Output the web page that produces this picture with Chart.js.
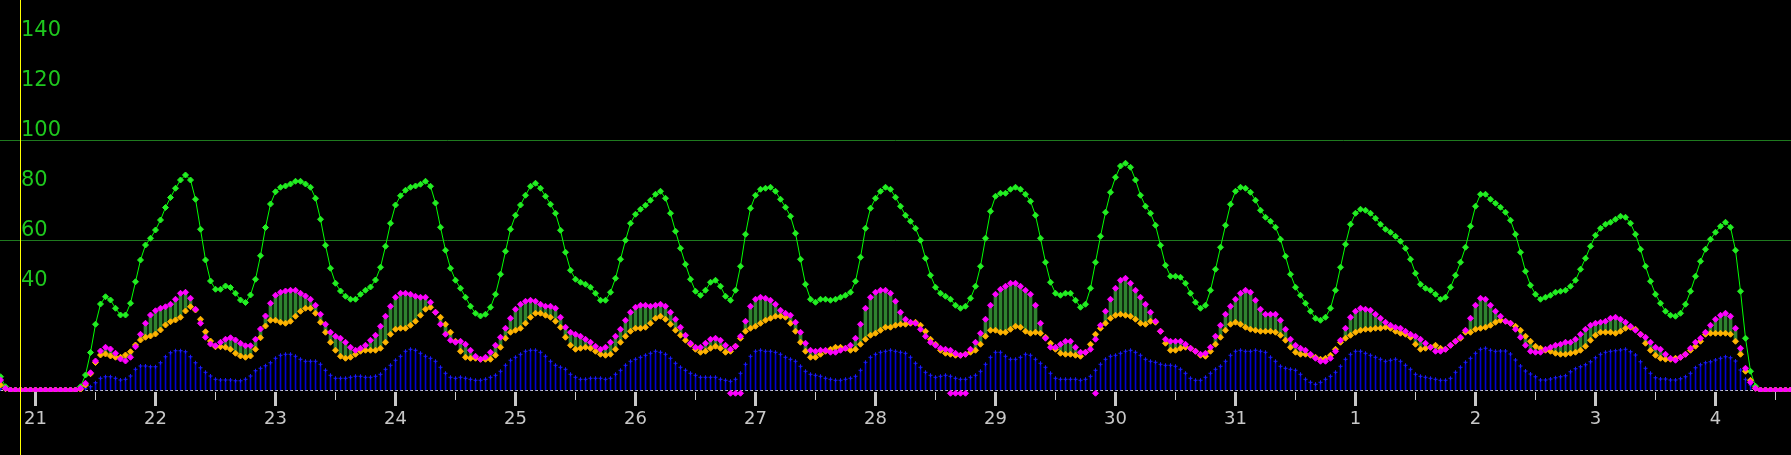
<!DOCTYPE html>
<html>
<head>
<meta charset="utf-8">
<title>Chart</title>
<script src="https://cdn.jsdelivr.net/npm/chart.js@4.4.1/dist/chart.umd.min.js"></script>
<style>
  html, body { margin: 0; padding: 0; background: #000; }
  #wrap { width: 1791px; height: 455px; }
</style>
</head>
<body>
<div id="wrap"><canvas id="chart"></canvas></div>
<script>
/* Chart */

// hourly samples, first one is 7 hours before 00:00 on the 21st
const firstHour = -7

const dayLabels = ['21', '22', '23', '24', '25', '26', '27', '28', '29', '30', '31', '1', '2', '3', '4']
const yTicks = [40, 60, 80, 100, 120, 140]
const gridValues = [60, 100]
const markerHour = -3

const green = [
  5.3, 1.3, 0, 0, 0, 0, 0, 0, 0, 0, 0, 0, 0, 0, 0, 0,
  1.3, 6, 15, 26.3, 34.4, 37.3, 36, 32.7, 30, 30, 34.7, 43.3, 52, 58, 60.7, 64, 68, 73, 77, 80.7, 84, 86, 84, 76.3,
  64.3, 52, 43.6, 40.3, 40.3, 41.6, 41, 38.7, 36, 35, 38, 44.3, 53.7, 65,
  74.4, 79.3, 81.1, 81.6, 82.4, 83.5, 83.5, 82.4, 81.1, 76.7, 68.3, 57.9, 48.7, 42.7, 39.6, 37.5, 36.3, 36.3, 38.3, 39.9, 41.2, 44, 49.1, 57.5, 66.7,
  74, 77.7, 79.9, 81.1, 81.6, 82.3, 83.5, 81.5, 74.8, 65.1, 55.9, 48.7, 43.9, 40.7, 37.1, 33.5, 30.7, 29.6, 30.3, 33.1, 38.3, 46.3, 55.5, 64.3, 69.9,
  74, 77.9, 81.5, 82.7, 80.7, 77.5, 74.3, 70.7, 63.9, 55.1, 47.9, 44.3, 43.1, 42.3, 41.1, 38.7, 35.9, 35.9, 39.1, 44.7, 52.3, 59.9, 66.7, 70.3, 72.3,
  73.9, 75.9, 78.3, 79.5, 76.7, 70.7, 63.5, 56.7, 50.3, 44.3, 39.5, 37.9, 39.9, 43.1, 43.9, 41.5, 37.5, 35.9, 39.9, 49.5, 62.3, 72.7, 77.9, 80.3,
  80.7, 81.1, 79.5, 76.3, 73.1, 69.5, 62.7, 52.3, 42.3, 36.3, 35.1, 36.3, 36.3, 35.9, 36.3, 37.1, 37.9, 39.1, 43.5, 53.1, 64.7, 72.7, 76.7, 79.5,
  81.1, 80.3, 77.1, 73.5, 69.9, 67.5, 64.7, 59.9, 52.7, 45.9, 41.1, 38.7, 37.5, 36.3, 33.9, 32.7, 33.5, 36.7, 41.5, 49.5, 60.7, 71.5, 77.5, 78.7, 78.7,
  80.3, 81.1, 80.3, 78.3, 75.5, 69.9, 60.7, 51.1, 43.1, 38.7, 37.9, 38.7, 38.7, 35.9, 33.1, 34.3, 40.7, 51.1, 61.5, 71.1, 79.1, 85.1, 89.6, 90.7, 89.1,
  84, 77.9, 73.5, 70.7, 65.9, 57.9, 49.9, 45.5, 45.5, 45.1, 42.7, 38.7, 35.1, 32.7, 33.9, 39.9, 48.3, 57.1, 65.9, 74.3, 79.5, 81.1, 80.7, 79.1, 75.9,
  71.9, 69.1, 67.5, 65.1, 60.3, 53.5, 46.3, 41.1, 37.9, 34.7, 31.5, 28.7, 27.9, 29.1, 32.7, 39.9, 49.1, 58.3, 66.3, 70.7, 72.3, 71.9, 70.7, 68.7,
  66.3, 64.3, 63.1, 61.5, 59.5, 56.7, 52.3, 46.7, 42.3, 40.7, 39.9, 38.3, 36.3, 37.1, 41.1, 45.9, 51.1, 57.1, 65.5, 73.5, 78.3, 78.3, 76.3, 74.7,
  73.1, 71.1, 67.9, 62.3, 55.1, 47.5, 41.9, 38.3, 36.3, 37.1, 37.9, 39.1, 39.5, 39.9, 41.5, 43.9, 48.3, 52.7, 57.5, 61.9, 64.7, 66.3, 67.1, 68.3,
  69.5, 69.1, 66.7, 62.3, 56.3, 49.5, 43.5, 38.3, 34.7, 31.5, 29.9, 29.5, 30.7, 34.3, 39.5, 45.5, 51.5, 56.3, 60.3, 63.1, 65.5, 67.1, 65.1, 55.9,
  39.5, 20.7, 7.5, 1.5, 0, 0, 0, 0, 0, 0, 0
]

const magenta = [
  4, 0.7, 0, 0, 0, 0, 0, 0, 0, 0, 0, 0, 0, 0, 0, 0,
  0.7, 2.7, 6.9, 11.6, 15.6, 17.1, 16.4, 14.7, 12.4, 11.6, 13.1, 17.3, 22.3, 26.7, 30, 31.7, 32.7, 33.3, 34.3, 36.3, 38.7, 39.1, 36.7, 32.3,
  26.7, 21.1, 18.4, 17.7, 19.1, 20.3, 20.9, 20, 18.7, 17.7, 17.7, 20.3, 24.4, 29.6,
  34.7, 37.9, 39.1, 39.6, 39.9, 39.9, 38.7, 37.6, 36.3, 33.9, 30.3, 26.3, 23.1, 21.5, 20.7, 19.1, 17.1, 15.9, 16.7, 17.9, 19.9, 21.9, 25.5, 29.5, 33.5,
  37.1, 38.7, 38.7, 38.3, 37.5, 37.1, 37.1, 35.1, 31.1, 26.3, 22.3, 19.9, 19.1, 19.5, 18.3, 15.9, 13.5, 12.3, 13.1, 15.1, 17.9, 21.1, 24.7, 28.7, 32.3,
  34.3, 35.5, 35.9, 35.5, 34.3, 33.5, 33.5, 32.7, 29.1, 25.1, 23.1, 22.3, 21.5, 20.3, 19.1, 17.5, 16.3, 17.1, 19.1, 21.5, 24.3, 27.9, 31.1, 33.1, 33.9,
  33.9, 33.5, 33.9, 34.3, 33.5, 31.1, 28.3, 25.1, 21.9, 18.7, 17.1, 17.1, 18.7, 20.3, 20.7, 19.9, 17.9, 16.3, 17.5, 21.5, 27.5, 33.5, 36.3, 37.1,
  36.7, 35.9, 34.3, 31.9, 30.7, 29.9, 27.1, 23.1, 18.7, 15.9, 15.5, 15.9, 15.9, 15.1, 15.1, 15.9, 16.7, 17.9, 20.7, 26.3, 32.7, 37.1, 39.1, 39.9,
  39.9, 38.7, 35.5, 31.1, 28.3, 27.1, 26.7, 24.3, 21.5, 19.1, 17.9, 16.7, 16.3, 15.9, 14.7, 13.9, 14.3, 16.3, 19.1, 22.7, 28.3, 33.9, 38.3, 40.3, 41.5,
  42.7, 42.7, 41.5, 39.9, 38.3, 33.9, 26.7, 20.7, 17.1, 17.1, 18.3, 19.5, 19.5, 17.1, 15.1, 15.1, 16.3, 20.3, 25.9, 31.5, 36.3, 40.7, 43.9, 44.7, 42.7,
  39.9, 37.1, 34.3, 31.1, 27.5, 23.5, 20.3, 19.5, 19.5, 19.5, 18.3, 16.7, 15.5, 14.3, 14.7, 17.1, 21.5, 25.9, 30.3, 33.5, 36.3, 38.7, 39.9, 39.1, 35.9,
  32.3, 30.3, 30.3, 30.3, 27.9, 24.3, 20.3, 17.9, 16.7, 15.9, 14.3, 12.7, 11.5, 11.5, 12.7, 15.5, 19.9, 24.7, 29.1, 31.5, 32.7, 32.3, 31.9, 30.3,
  28.7, 27.1, 25.9, 25.1, 24.7, 23.5, 22.3, 21.5, 20.3, 18.7, 17.1, 15.5, 15.5, 16.3, 17.9, 19.5, 21.1, 23.9, 28.7, 33.9, 36.7, 36.3, 33.9, 31.5,
  29.5, 27.5, 26.7, 24.3, 21.1, 17.9, 15.5, 15.1, 15.1, 16.3, 17.1, 17.9, 18.3, 19.1, 19.1, 20.3, 22.3, 24.3, 25.9, 26.7, 27.1, 27.5, 28.7, 29.1,
  28.3, 27.1, 25.5, 23.9, 22.3, 21.1, 19.1, 17.1, 16.3, 14.3, 12.7, 11.9, 13.1, 14.3, 16.7, 19.1, 20.7, 23.1, 25.9, 28.3, 29.9, 30.7, 29.5, 24.7,
  16.7, 8.7, 3.1, 0.7, 0, 0, 0, 0, 0, 0, 0
]

const orange = [
  2, 0.5, 0, 0, 0, 0, 0, 0, 0, 0, 0, 0, 0, 0, 0, 0,
  0.3, 2, 6.5, 11, 14, 14.4, 13.6, 13.1, 13.1, 14, 15.3, 18, 20, 21.1, 21.6, 22.4, 24, 26, 27.3, 28, 29.1, 31.6, 33.3, 32,
  28.3, 23.3, 19.6, 17.3, 17.3, 17.1, 16.3, 14.7, 13.6, 13.1, 13.6, 16.3, 20.9, 25.6,
  27.9, 27.9, 27.1, 26.7, 27.5, 29.5, 31.5, 32.7, 32.7, 30.7, 27.1, 23.1, 19.1, 15.9, 13.5, 12.7, 13.1, 14.3, 15.5, 15.9, 15.9, 15.9, 16.7, 19.1, 22.3,
  24.3, 24.7, 24.7, 25.9, 27.5, 29.9, 32.3, 33.1, 31.1, 29.1, 26.3, 23.1, 19.5, 15.5, 13.1, 12.7, 12.7, 12.3, 12.3, 12.3, 13.9, 17.1, 20.7, 23.1, 23.9,
  24.7, 26.7, 29.1, 30.7, 30.7, 29.9, 29.1, 27.5, 25.1, 21.1, 17.9, 16.3, 16.7, 17.1, 16.7, 15.5, 14.3, 13.9, 14.3, 16.3, 19.1, 21.5, 23.5, 24.7, 24.7,
  25.1, 26.7, 28.7, 29.5, 28.3, 26.3, 23.9, 21.9, 19.9, 18.3, 16.3, 15.1, 15.5, 16.7, 17.5, 16.7, 15.1, 15.5, 17.5, 20.7, 23.5, 24.7, 25.5, 26.7,
  27.9, 28.7, 29.5, 29.5, 29.1, 26.7, 23.5, 19.1, 15.5, 13.1, 13.1, 14.3, 15.5, 16.3, 17.1, 17.1, 16.7, 15.9, 16.3, 18.3, 20.3, 21.9, 22.7, 23.9,
  25.1, 25.1, 25.9, 26.3, 26.3, 26.7, 27.1, 25.9, 23.5, 20.3, 18.3, 15.9, 14.7, 14.3, 13.9, 13.9, 14.3, 15.1, 15.9, 18.3, 21.5, 23.9, 23.9, 23.1, 23.1,
  24.3, 25.5, 25.1, 23.5, 22.7, 23.1, 22.7, 21.1, 18.7, 16.3, 14.7, 14.3, 14.3, 13.9, 13.5, 15.1, 18.3, 22.3, 24.7, 26.7, 28.7, 29.9, 30.3, 29.9, 29.5,
  28.3, 26.7, 26.3, 27.5, 27.1, 23.5, 18.7, 15.9, 15.9, 16.7, 17.1, 16.7, 15.5, 13.9, 13.5, 15.5, 18.3, 21.1, 23.9, 26.3, 27.1, 26.3, 25.1, 24.3, 23.9,
  23.5, 23.5, 23.5, 23.1, 21.9, 19.9, 17.1, 15.1, 14.3, 14.3, 13.9, 13.1, 12.3, 12.7, 13.9, 16.3, 19.1, 20.7, 21.9, 23.1, 23.9, 24.3, 24.3, 24.7,
  24.7, 25.1, 24.7, 23.5, 22.7, 22.3, 21.1, 18.3, 16.3, 16.7, 17.1, 17.9, 16.7, 16.3, 17.9, 19.5, 20.7, 23.1, 23.1, 24.3, 24.7, 25.1, 25.9, 27.1,
  27.9, 27.5, 26.7, 25.5, 23.9, 21.5, 19.5, 17.5, 16.7, 15.9, 15.5, 14.7, 14.3, 14.3, 14.7, 15.1, 15.9, 17.5, 19.9, 21.9, 23.1, 23.1, 23.1, 22.7,
  23.5, 24.7, 25.1, 24.3, 22.3, 18.7, 15.9, 13.9, 12.7, 12.3, 12.3, 12.7, 13.1, 14.3, 15.9, 17.5, 19.5, 22.3, 22.7, 22.7, 22.7, 22.7, 22.3, 19.5,
  14.3, 7.5, 3.9, 0.7, 0, 0, 0, 0, 0, 0, 0
]

const blue = [
  0.5, 0, 0, 0, 0, 0, 0, 0, 0, 0, 0, 0, 0, 0, 0, 0,
  0.3, 0.7, 1.3, 2.9, 4.7, 5.3, 5.3, 4.7, 4, 4.3, 5.6, 8.3, 9.6, 9.6, 9.3, 9.3, 10.9, 13.3, 14.9, 15.7, 15.7, 15.3, 13.3, 10.9,
  8.9, 7.1, 5.6, 4.3, 4, 4, 4, 3.7, 3.7, 4.3, 5.6, 7.7, 8.7, 9.7,
  10.9, 12.7, 13.9, 14.3, 14.3, 13.5, 12.3, 11.5, 11.5, 11.5, 10.3, 7.9, 5.9, 4.7, 4.7, 4.7, 5.1, 5.5, 5.5, 5.1, 5.1, 5.5, 6.3, 8.3, 9.9,
  11.9, 13.5, 15.5, 16.3, 15.9, 14.7, 13.5, 12.7, 11.5, 9.1, 6.7, 5.1, 4.7, 5.1, 4.7, 4.3, 3.9, 3.9, 4.3, 5.1, 5.9, 7.5, 9.9, 11.9, 13.1,
  14.3, 15.5, 15.9, 15.9, 15.1, 13.5, 11.5, 9.9, 9.1, 8.3, 6.3, 5.1, 4.3, 4.3, 4.7, 4.7, 4.7, 4.3, 4.7, 6.3, 7.9, 9.9, 11.5, 12.3, 13.1,
  13.9, 14.7, 15.5, 15.1, 14.3, 12.7, 10.7, 9.1, 7.9, 6.7, 5.9, 5.1, 5.1, 5.1, 5.1, 4.3, 3.9, 3.5, 4.3, 6.7, 10.3, 13.5, 15.5, 15.9,
  15.5, 15.5, 15.1, 14.3, 13.1, 12.3, 11.5, 9.5, 7.5, 6.3, 5.9, 5.5, 4.7, 4.3, 3.9, 3.9, 4.3, 4.7, 5.5, 7.9, 11.1, 13.1, 14.3, 15.1,
  15.5, 15.9, 15.5, 15.1, 14.7, 13.1, 10.7, 9.1, 7.1, 5.9, 5.1, 5.5, 5.9, 5.5, 4.7, 4.3, 4.3, 5.1, 5.9, 7.5, 10.3, 13.1, 15.1, 15.1, 13.5,
  12.3, 12.3, 13.1, 14.3, 13.9, 12.3, 10.7, 9.1, 6.7, 4.7, 4.3, 4.3, 4.3, 4.3, 3.9, 4.3, 5.5, 7.9, 10.3, 12.3, 13.5, 13.9, 14.7, 15.5, 15.9,
  15.1, 13.9, 12.3, 11.5, 11.1, 10.3, 9.9, 9.9, 9.5, 8.3, 6.7, 4.7, 3.9, 3.9, 5.1, 6.7, 8.3, 9.5, 11.5, 13.9, 15.5, 15.9, 15.5, 15.5, 15.9,
  15.5, 15.1, 13.1, 11.5, 9.5, 8.7, 8.3, 7.9, 6.3, 4.3, 3.1, 2.3, 3.1, 4.3, 5.5, 7.1, 9.5, 12.3, 14.3, 15.5, 15.5, 14.7, 13.9, 13.1,
  12.3, 11.5, 11.9, 12.3, 11.5, 9.9, 8.3, 6.3, 5.5, 5.1, 4.7, 4.3, 3.9, 3.9, 4.7, 7.1, 9.1, 11.1, 12.7, 14.7, 16.3, 16.7, 15.9, 15.5,
  15.6, 15.6, 14.4, 12, 9.6, 7.6, 6.4, 5.3, 4, 4, 4.4, 4.9, 5.3, 5.7, 7.3, 8.5, 9.3, 10.1, 11.3, 12.9, 14.3, 15.1, 15.5, 15.7,
  16, 16.3, 15.3, 14, 11.3, 8.7, 6.7, 4.9, 4.4, 4.4, 4, 4, 4.5, 5.3, 6.7, 8.9, 10.1, 10.9, 11.3, 12, 12.7, 13.3, 12.9, 11.6,
  8, 4.3, 2, 0.3, 0, 0, 0, 0, 0, 0, 0
]

// hours where the magenta marker sits just under the zero line
const gapHours = [139, 140, 141, 183, 184, 185, 186, 212]
const gapValue = -1.3

const hourOf = i => firstHour + i
const points = arr => arr.map((v, i) => ({ x: hourOf(i), y: v }))
const tickHours = dayLabels.flatMap((d, i) => [i * 24, i * 24 + 12])

const overlay = {
  id: 'overlay',
  beforeDatasetsDraw(chart) {
    const { ctx, chartArea, scales } = chart
    const y0 = Math.round(scales.y.getPixelForValue(0)) + 0.5
    ctx.save()
    ctx.strokeStyle = '#d0d0d0'
    ctx.lineWidth = 1
    ctx.setLineDash([3, 2])
    ctx.beginPath()
    ctx.moveTo(chartArea.left, y0)
    ctx.lineTo(chartArea.right, y0)
    ctx.stroke()
    ctx.restore()
  },
  afterDraw(chart) {
    const { ctx, scales } = chart
    const xm = scales.x.getPixelForValue(markerHour)
    ctx.save()
    ctx.strokeStyle = '#ffff00'
    ctx.lineWidth = 1
    ctx.beginPath()
    ctx.moveTo(xm, 0)
    ctx.lineTo(xm, chart.height)
    ctx.stroke()
    ctx.restore()
  }
}

const markerDataset = (label, data, color, order) => ({
  type: 'line',
  label,
  data,
  showLine: false,
  pointStyle: 'rectRot',
  pointRadius: 3,
  pointBorderWidth: 1,
  pointBackgroundColor: color,
  pointBorderColor: color,
  order
})

Chart.defaults.font.family = "'DejaVu Sans', sans-serif"

new Chart(
  document.getElementById('chart'),
  {
    type: 'bar',
    data: {
      datasets: [
        {
          label: 'blue',
          data: points(blue),
          backgroundColor: '#0000d0',
          barThickness: 1,
          borderWidth: 0,
          grouped: false,
          order: 8
        },
        {
          type: 'line',
          label: 'blue top',
          data: points(blue),
          showLine: false,
          pointStyle: 'cross',
          pointRadius: 2,
          pointBorderWidth: 1,
          pointBorderColor: '#1a1aff',
          order: 7
        },
        {
          label: 'range',
          data: orange.map((o, i) => ({ x: hourOf(i), y: [o, magenta[i]] })),
          backgroundColor: '#2f832f',
          barThickness: 3,
          borderWidth: 0,
          grouped: false,
          order: 6
        },
        {
          type: 'line',
          label: 'green',
          data: points(green),
          borderColor: '#00ff00',
          borderWidth: 1,
          tension: 0,
          pointStyle: 'rectRot',
          pointRadius: 3,
          pointBorderWidth: 1,
          pointBackgroundColor: '#22ee22',
          pointBorderColor: '#22ee22',
          order: 5
        },
        markerDataset('orange', points(orange), '#ffb300', 4),
        markerDataset('magenta', points(magenta), '#ff00ff', 3),
        Object.assign(
          markerDataset('gap', gapHours.map(h => ({ x: h, y: gapValue })), '#ff00ff', 2),
          { clip: false }
        )
      ]
    },
    options: {
      animation: false,
      responsive: true,
      maintainAspectRatio: false,
      layout: { padding: 0, autoPadding: false },
      plugins: {
        legend: { display: false },
        tooltip: { enabled: false }
      },
      scales: {
        x: {
          type: 'linear',
          min: -7.1,
          max: 351.1,
          offset: false,
          afterBuildTicks: scale => { scale.ticks = tickHours.map(v => ({ value: v })) },
          afterFit: scale => {
            scale.height = 63
            scale.paddingLeft = 0
            scale.paddingRight = 0
          },
          border: { display: false },
          grid: {
            offset: false,
            drawOnChartArea: false,
            drawTicks: true,
            tickLength: 14,
            tickColor: '#c8c8c8',
            tickWidth: ctx => (ctx.tick && ctx.tick.value % 24 === 0 ? 3 : 1),
            tickBorderDash: ctx => (ctx.tick && ctx.tick.value % 24 === 0 ? [] : [8, 40])
          },
          ticks: {
            autoSkip: false,
            maxRotation: 0,
            padding: 3,
            color: '#c8c8c8',
            font: { size: 18 },
            callback: v => (v % 24 === 0 ? dayLabels[v / 24] : '')
          }
        },
        y: {
          min: -0.8,
          max: 156,
          afterBuildTicks: scale => { scale.ticks = yTicks.map(v => ({ value: v })) },
          afterFit: scale => {
            scale.width = 0
            scale.paddingTop = 0
            scale.paddingBottom = 0
          },
          border: { display: false },
          grid: {
            drawTicks: false,
            lineWidth: 1,
            color: ctx => (ctx.tick && gridValues.includes(ctx.tick.value) ? '#1f7a1f' : 'rgba(0,0,0,0)')
          },
          ticks: {
            mirror: true,
            padding: 21,
            labelOffset: -9,
            color: '#1ec81e',
            font: { size: 21 }
          }
        }
      }
    },
    plugins: [overlay]
  }
)
</script>
</body>
</html>
